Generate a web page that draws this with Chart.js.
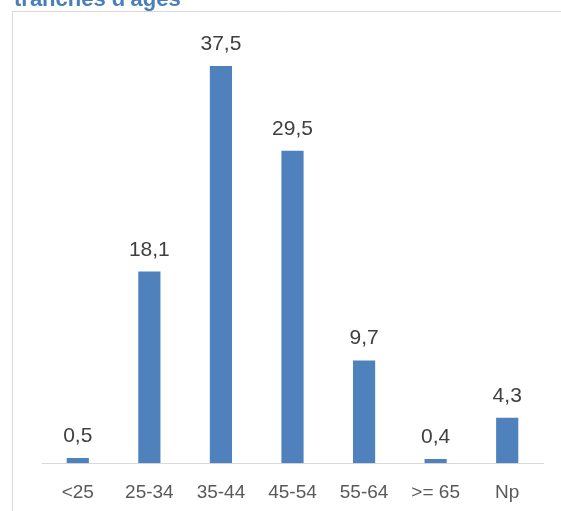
<!DOCTYPE html>
<html>
<head>
<meta charset="utf-8">
<script src="https://cdn.jsdelivr.net/npm/chart.js@4"></script>
<style>
  html, body { margin: 0; padding: 0; background: #fff; overflow: hidden; }
  #wrap { position: relative; width: 561px; height: 511px; }
  #title {
    position: absolute; left: 14px; top: -12px; z-index: 2;
    font: bold 22px "Liberation Sans", Arial, sans-serif;
    color: #4a7ebb; white-space: nowrap; line-height: 1;
  }
  canvas { position: absolute; left: 0; top: 0; z-index: 1; }
</style>
</head>
<body>
<div id="wrap">
  <div id="title">tranches d'âges</div>
  <canvas id="age_chart" width="561" height="511"></canvas>
</div>
<script>
var categories = ["<25", "25-34", "35-44", "45-54", "55-64", ">= 65", "Np"];
var values = [0.5, 18.1, 37.5, 29.5, 9.7, 0.4, 4.3];

// frame of the excel chart box (left + top edges visible)
const framePlugin = {
  id: "frame",
  beforeDraw: (chart) => {
    var ctx = chart.ctx;
    ctx.save();
    ctx.strokeStyle = "#d9d9d9";
    ctx.lineWidth = 1;
    ctx.beginPath();
    ctx.moveTo(12.5, 511);
    ctx.lineTo(12.5, 11.5);
    ctx.lineTo(561, 11.5);
    ctx.stroke();
    ctx.restore();
  }
};

// value labels above bars, french decimal comma
const valueLabels = {
  id: "valueLabels",
  afterDatasetsDraw: (chart) => {
    var ctx = chart.ctx;
    var meta = chart.getDatasetMeta(0);
    ctx.save();
    ctx.font = '21px "Liberation Sans", Arial, sans-serif';
    ctx.fillStyle = "#404040";
    ctx.textAlign = "center";
    ctx.textBaseline = "alphabetic";
    meta.data.forEach((bar, i) => {
      var txt = values[i].toFixed(1).replace(".", ",");
      ctx.fillText(txt, bar.x, bar.y - 16);
    });
    ctx.restore();
  }
};

const renderChart = () => {
  var ctx = document.getElementById("age_chart").getContext("2d");
  var myChart = new Chart(ctx, {
    type: "bar",
    data: {
      labels: categories,
      datasets: [
        {
          data: values,
          backgroundColor: "#4f81bd",
          borderWidth: 0,
          categoryPercentage: 1,
          barPercentage: 0.31,
        },
      ],
    },
    options: {
      responsive: false,
      animation: false,
      events: [],
      layout: { padding: { left: 42, right: 18, top: 39.6, bottom: -11 } },
      plugins: {
        legend: { display: false },
        tooltip: { enabled: false },
      },
      scales: {
        y: { display: false, min: 0, max: 40 },
        x: {
          grid: { display: false, drawTicks: false },
          border: { display: true, color: "#d9d9d9", width: 1 },
          ticks: {
            padding: 18,
            color: "#595959",
            font: { family: '"Liberation Sans", Arial, sans-serif', size: 19 },
          },
        },
      },
    },
    plugins: [framePlugin, valueLabels],
  });
};
renderChart();
</script>
</body>
</html>
